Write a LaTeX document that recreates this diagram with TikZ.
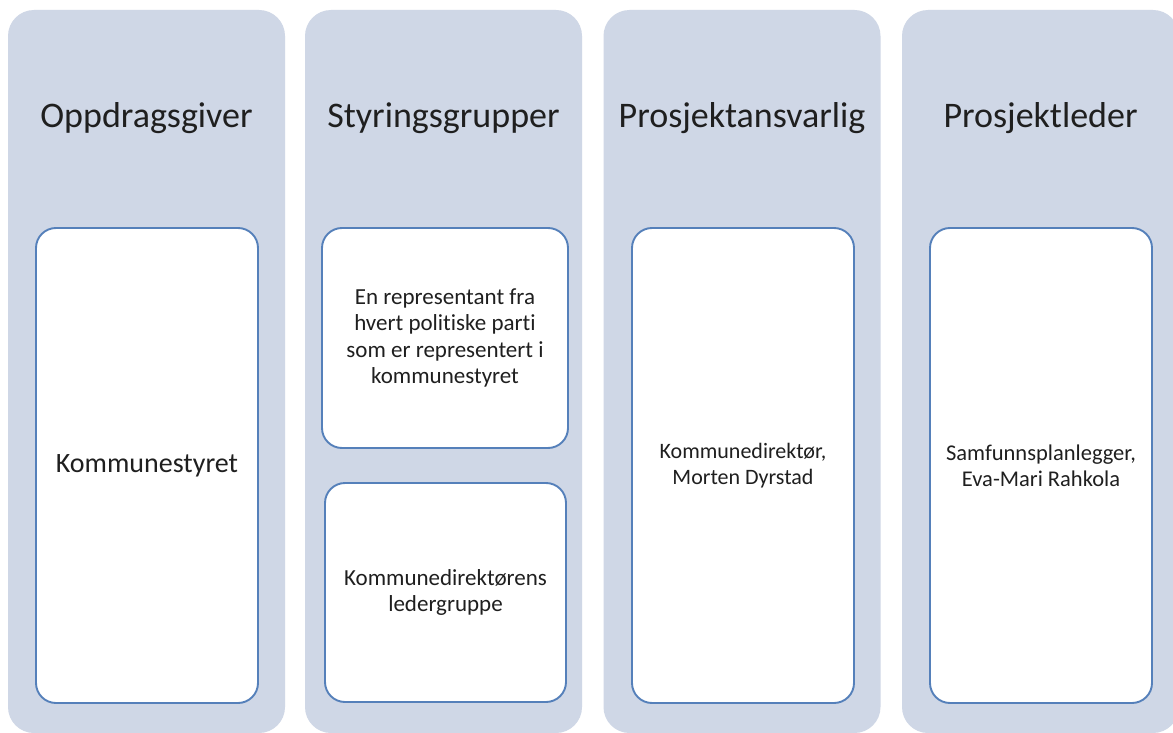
\documentclass[tikz,border=0pt]{standalone}
\usepackage{fontspec}
\setmainfont{Carlito}[Ligatures=NoCommon]
\definecolor{colfill}{HTML}{CFD7E6}
\definecolor{boxline}{HTML}{5580BA}
\definecolor{txt}{HTML}{1F1F1F}
\begin{document}
\begin{tikzpicture}[x=1pt,y=-1pt,
  colbox/.style={fill=colfill, draw=none, rounded corners=26pt, minimum width=277pt, minimum height=723pt, inner sep=0pt},
  title/.style={text=txt, font=\fontsize{36}{40}\selectfont, inner sep=0pt},
  card/.style={fill=white, draw=boxline, line width=1.9pt, rounded corners=20pt, inner sep=0pt, align=center, text=txt, font=\fontsize{23}{26.5}\selectfont}]
\useasboundingbox (0,0) rectangle (1173,733);
\fill[white] (0,0) rectangle (1173,733);
% columns
\node[colbox] (c1) at (146.5,371.5) {};
\node[colbox] (c2) at (443.5,371.5) {};
\node[colbox] (c3) at (742,371.5) {};
\node[colbox] (c4) at (1040.5,371.5) {};
% titles
\node[title] (t1) at (146.5,118) {Oppdragsgiver};
\node[title] (t2) at (443.5,118) {Styringsgrupper};
\node[title] (t3) at (742,118) {Prosjektansvarlig};
\node[title] (t4) at (1040.5,118) {Prosjektleder};
% cards
\node[card, minimum width=222pt, minimum height=475pt, font=\fontsize{28}{32}\selectfont] (k1) at (147,465.5) {Kommunestyret};
\node[card, minimum width=246pt, minimum height=220pt] (k2a) at (445,338) {En representant fra\\hvert politiske parti\\som er representert i\\kommunestyret};
\node[card, minimum width=241pt, minimum height=219pt] (k2b) at (445.5,592.5) {Kommunedirektørens\\ledergruppe};
\node[card, minimum width=222pt, minimum height=475pt, font=\fontsize{22}{26}\selectfont] (k3) at (743,465.5) {Kommunedirektør,\\Morten Dyrstad};
\node[card, minimum width=222pt, minimum height=475pt, font=\fontsize{22.5}{26}\selectfont] (k4) at (1041,465.5) {Samfunnsplanlegger,\\Eva-Mari Rahkola};
\end{tikzpicture}
\end{document}
